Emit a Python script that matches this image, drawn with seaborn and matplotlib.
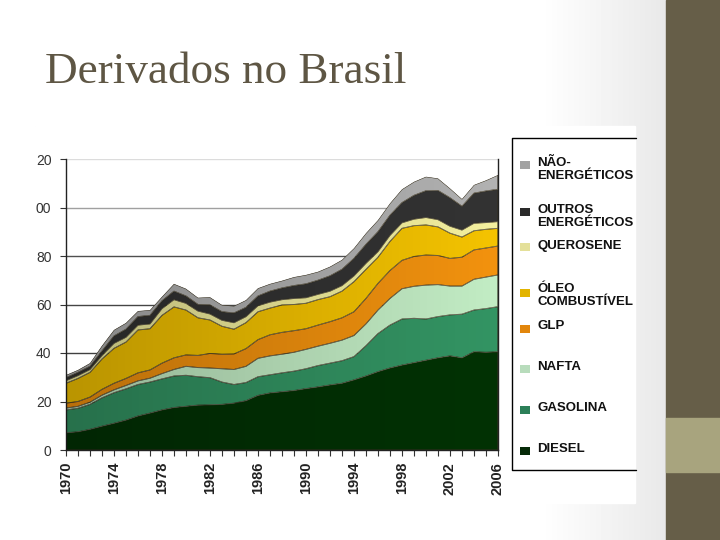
import numpy as np
import pandas as pd
import matplotlib.pyplot as plt
from matplotlib.patches import Rectangle
import seaborn as sns
import seaborn.objects as so

years = list(range(1970, 2007))

# consumo por derivado (camadas empilhadas)
diesel = [7.1, 7.5, 8.5, 9.8, 11.0, 12.3, 14.0, 15.2, 16.5, 17.5, 18.0, 18.5, 18.6, 18.8, 19.3, 20.3, 22.5, 23.5, 24.0,
          24.5, 25.3, 26.0, 26.8, 27.5, 28.9, 30.5, 32.3, 33.8, 35.0, 36.0, 37.0, 38.0, 38.8, 38.0, 40.5, 40.3, 40.5]
gasolina = [9.4, 9.7, 10.3, 11.7, 12.6, 12.9, 13.0, 12.8, 12.8, 13.0, 12.8, 11.7, 11.2, 9.2, 7.7, 7.5, 7.7, 7.5, 7.8,
            8.0, 8.2, 8.8, 9.0, 9.3, 9.6, 12.5, 15.7, 17.7, 19.0, 18.3, 17.0, 17.0, 16.9, 18.0, 17.2, 18.0, 18.6]
nafta = [0.8, 0.8, 0.9, 1.1, 1.2, 1.4, 1.5, 1.6, 2.2, 2.7, 3.7, 3.8, 4.0, 5.5, 6.2, 6.7, 7.6, 7.8, 7.7,
         7.8, 8.0, 8.0, 8.2, 8.5, 8.7, 9.0, 9.7, 11.0, 12.5, 13.2, 14.0, 13.2, 11.9, 11.6, 12.7, 13.0, 13.1]
glp = [2.0, 2.0, 2.1, 2.4, 2.7, 2.9, 3.3, 3.4, 4.3, 4.8, 4.7, 5.0, 6.0, 6.0, 6.4, 7.3, 7.7, 8.7, 9.0,
       8.9, 8.5, 8.7, 8.9, 9.2, 9.8, 10.5, 11.0, 11.5, 11.7, 12.3, 12.4, 12.0, 11.4, 11.9, 12.1, 12.0, 11.9]
oleo = [8.2, 9.5, 10.2, 12.5, 14.4, 15.0, 17.7, 17.0, 19.7, 21.0, 18.5, 15.5, 13.8, 11.5, 10.2, 10.7, 11.5, 11.0, 11.3,
        10.8, 10.5, 10.5, 10.3, 11.0, 12.4, 12.0, 10.8, 12.0, 13.2, 12.7, 12.4, 11.8, 10.4, 8.3, 7.9, 7.7, 7.3]
querosene = [1.1, 1.2, 1.2, 1.5, 2.1, 2.0, 2.0, 2.0, 2.8, 3.0, 2.8, 2.8, 2.5, 2.5, 2.7, 2.5, 2.5, 2.5, 2.2,
             2.5, 2.3, 2.2, 2.3, 2.3, 2.4, 2.5, 2.3, 2.5, 2.3, 2.7, 3.1, 3.0, 2.9, 2.9, 3.1, 2.8, 2.8]
outros = [1.2, 1.3, 1.3, 1.8, 3.0, 3.3, 3.5, 3.5, 3.2, 3.5, 3.0, 2.7, 3.7, 3.5, 4.0, 3.8, 4.0, 4.5, 4.8,
          5.3, 5.7, 5.8, 6.3, 6.7, 7.2, 7.8, 8.2, 8.3, 8.3, 9.8, 11.0, 12.0, 11.7, 9.8, 12.4, 13.0, 13.3]
nao_energeticos = [1.1, 1.0, 1.3, 2.2, 2.5, 2.6, 2.3, 2.2, 1.7, 3.0, 3.0, 2.8, 3.2, 2.8, 2.9, 3.0, 3.2, 3.0, 3.0,
                   3.5, 3.7, 3.5, 3.8, 3.9, 4.2, 4.6, 4.8, 4.9, 5.5, 5.6, 5.8, 5.0, 3.9, 3.0, 3.4, 4.4, 5.9]

products = ["DIESEL", "GASOLINA", "NAFTA", "GLP", "ÓLEO\nCOMBUSTÍVEL", "QUEROSENE",
            "OUTROS\nENERGÉTICOS", "NÃO-\nENERGÉTICOS"]
series = [diesel, gasolina, nafta, glp, oleo, querosene, outros, nao_energeticos]
colors = ["#023204", "#339463", "#c2ecc4", "#f2920e", "#f4c300", "#f4f09e", "#333333", "#b2b2b2"]
legend_colors = ["#062a08", "#2c7f58", "#b8dcbc", "#e2860c", "#e2b400", "#e4e09a", "#2a2a2a", "#a2a2a2"]
tick_years = [1970, 1974, 1978, 1982, 1986, 1990, 1994, 1998, 2002, 2006]
ytick_vals = [0, 20, 40, 60, 80, 100, 120]
ytick_text = ["0", "20", "40", "60", "80", "00", "20"]  # rotulos cortados na imagem original
grid_colors = ["#404040", "#404040", "#404040", "#454545", "#505050", "#a0a0a0", "#dcdcdc"]

rows = []
for name, vals in zip(products, series):
    for yr, v in zip(years, vals):
        rows.append({"ano": yr, "valor": v, "produto": name})
df = pd.DataFrame(rows)

sns.set_style("white")
plt.rcParams['font.family'] = ['Liberation Sans', 'DejaVu Sans']

fig = plt.figure(figsize=(7.2, 5.4), dpi=100)

# fundo do slide
bg = fig.add_axes([0, 0, 1, 1], zorder=-5)
bg.set_xlim(0, 720)
bg.set_ylim(540, 0)
bg.axis("off")
grad = np.ones((1, 720))
xs = np.arange(720)
grad[0] = np.where(xs < 540, 1.0, 1.0 - 0.09 * np.clip((xs - 540) / 127, 0, 1))
bg.imshow(grad, extent=[0, 720, 540, 0], aspect="auto", cmap="gray", vmin=0, vmax=1)
bg.add_patch(Rectangle((666, 0), 54, 540, color="#665e48"))
bg.add_patch(Rectangle((666, 418), 54, 54, color="#a8a47e"))
bg.add_patch(Rectangle((35, 126), 600, 377, color="white"))
top_grad = np.linspace(0.93, 1.0, 20).reshape(-1, 1)
bg.imshow(top_grad, extent=[35, 635, 146, 126], aspect="auto", cmap="gray", vmin=0, vmax=1)
bg.text(45, 83, "Derivados no Brasil", family=["Liberation Serif", "DejaVu Serif"], size=32.5,
        color="#5e5644", va="baseline")

# legenda manual
bg.plot([636, 512, 512, 636], [138, 138, 470, 470], color="black", lw=1)
leg_order = list(range(len(products)))[::-1]
text_tops = [157, 204, 240, 283, 320, 361, 402, 443]
mark_tops = [161, 208, 243, 289, 325, 365, 406, 447]
for k, idx in enumerate(leg_order):
    bg.add_patch(Rectangle((520, mark_tops[k]), 10, 8, facecolor=legend_colors[idx], edgecolor="none"))
    bg.text(537, text_tops[k], products[idx], size=9.5, weight="bold", va="top", ha="left",
            linespacing=1.12, color="#111111")

ax = fig.add_axes([66 / 720, 90 / 540, 432 / 720, 291 / 540])
ax.set_facecolor("white")

(
    so.Plot(df, x="ano", y="valor", color="produto")
    .add(so.Area(alpha=1, edgecolor="#3b3320", edgewidth=0.35), so.Stack(), legend=False)
    .scale(color=dict(zip(products, colors)))
    .on(ax)
    .plot()
)

# sombreamento horizontal (mais escuro a esquerda), recortado pela area total
total = np.sum(np.array(series), axis=0)
hull = ax.fill_between(years, 0, total, facecolor="none", edgecolor="none")
shade = np.zeros((2, 200, 4))
shade[..., 3] = np.linspace(0.24, 0.0, 200)[None, :]
im = ax.imshow(shade, extent=[1970, 2006, 0, 120], aspect="auto", zorder=3, interpolation="bilinear")
im.set_clip_path(hull.get_paths()[0], transform=ax.transData)

ax.set_xlim(1970, 2006)
ax.set_ylim(0, 120)
ax.set_aspect("auto")
ax.set_xlabel("")
ax.set_ylabel("")
ax.set_xticks(years)
ax.set_xticklabels([str(y) if y in tick_years else "" for y in years], rotation=90,
                   weight="bold", size=10.5, color="#222222")
ax.set_yticks(ytick_vals)
ax.set_yticklabels(ytick_text, size=10, color="#333333")
ax.tick_params(axis="x", length=4.5, width=0.8, color="#333333", pad=4, bottom=True)
ax.tick_params(axis="y", length=4.5, width=0.8, color="#333333", pad=6, left=True)
ax.yaxis.grid(True, lw=1)
ax.xaxis.grid(False)
for gl, c in zip(ax.get_ygridlines(), grid_colors):
    gl.set_color(c)
for side in ["left", "right", "bottom"]:
    ax.spines[side].set_visible(True)
    ax.spines[side].set_color("#222222")
    ax.spines[side].set_linewidth(1)
ax.spines["top"].set_visible(False)
ax.set_axisbelow(True)

fig.savefig("out.png", dpi=100)
